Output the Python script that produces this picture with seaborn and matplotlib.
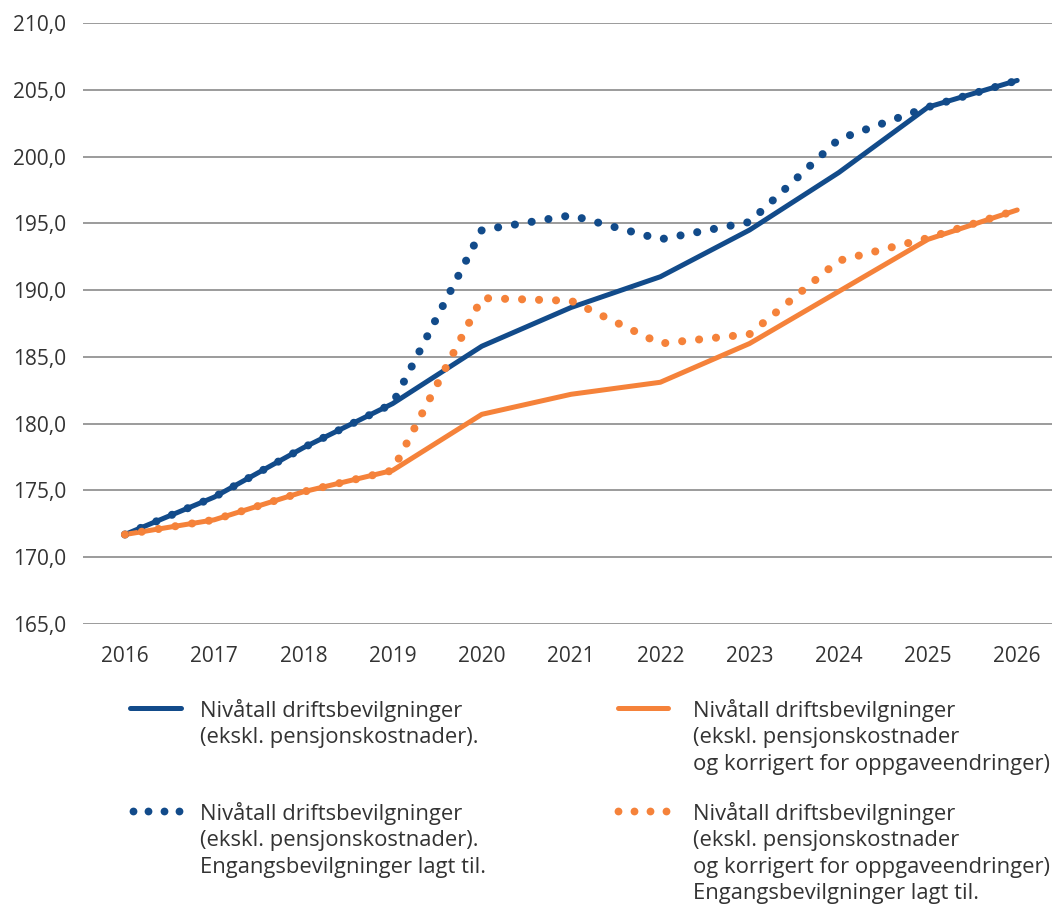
import matplotlib
matplotlib.use("Agg")
from matplotlib import pyplot as plt
from matplotlib.lines import Line2D
import seaborn as sns
import pandas as pd

years = [2016, 2017, 2018, 2019, 2020, 2021, 2022, 2023, 2024, 2025, 2026]
blue_solid = [171.7, 174.5, 178.2, 181.5, 185.8, 188.7, 191.0, 194.5, 198.8, 203.7, 205.7]
blue_dotted = [171.7, 174.5, 178.2, 181.5, 194.5, 195.6, 193.8, 195.1, 201.3, 203.7, 205.7]
orange_solid = [171.7, 172.8, 174.9, 176.5, 180.7, 182.2, 183.1, 186.0, 189.9, 193.8, 196.0]
orange_dotted = [171.7, 172.8, 174.9, 176.5, 189.4, 189.2, 186.0, 186.7, 192.2, 193.9, 196.0]

labels = [
    "Nivåtall driftsbevilgninger\n(ekskl. pensjonskostnader).",
    "Nivåtall driftsbevilgninger\n(ekskl. pensjonskostnader\nog korrigert for oppgaveendringer)",
    "Nivåtall driftsbevilgninger\n(ekskl. pensjonskostnader).\nEngangsbevilgninger lagt til.",
    "Nivåtall driftsbevilgninger\n(ekskl. pensjonskostnader\nog korrigert for oppgaveendringer)\nEngangsbevilgninger lagt til.",
]
yticks = [165, 170, 175, 180, 185, 190, 195, 200, 205, 210]

BLUE = "#124b8a"
ORANGE = "#f5823a"
DOTS = (0, (0.01, 2.1))
DOT_LW = 5.8

sns.set_style("white")
plt.rcParams["font.family"] = ["Open Sans", "DejaVu Sans"]

df = pd.DataFrame({"year": years, "bs": blue_solid, "bd": blue_dotted,
                   "os": orange_solid, "od": orange_dotted})

fig = plt.figure(figsize=(10.52, 9.06), dpi=100)
ax = fig.add_axes([83 / 1052, 1 - 624 / 906, 969 / 1052, 601 / 906])

sns.lineplot(data=df, x="year", y="bs", color=BLUE, linewidth=3.6, ax=ax)
sns.lineplot(data=df, x="year", y="os", color=ORANGE, linewidth=3.6, ax=ax)
sns.lineplot(data=df, x="year", y="bd", color=BLUE, linewidth=DOT_LW, linestyle=DOTS,
             dash_capstyle="round", ax=ax)
sns.lineplot(data=df, x="year", y="od", color=ORANGE, linewidth=DOT_LW, linestyle=DOTS,
             dash_capstyle="round", ax=ax)

ax.set_xlim(2015.53, 2026.39)
ax.set_ylim(165, 210)
ax.set_xticks(years)
ax.set_yticks(yticks)
ax.set_yticklabels([f"{v:.1f}".replace(".", ",") for v in yticks])
ax.set_xlabel("")
ax.set_ylabel("")
ax.grid(axis="y", color="#808080", linewidth=1.1)
ax.set_axisbelow(True)
for s in ax.spines.values():
    s.set_visible(False)
ax.tick_params(axis="x", length=0, pad=16, labelsize=15, labelcolor="#333333")
ax.tick_params(axis="y", length=0, pad=12, labelsize=15, labelcolor="#333333")

# legend, drawn by hand in figure pixels
W, H = 1052, 906
def fx(x): return x / W
def fy(y): return 1 - y / H

entries = [
    (130, 181, 708, BLUE, False, 200, labels[0]),
    (618, 668, 708, ORANGE, False, 693, labels[1]),
    (133, 179, 811, BLUE, True, 200, labels[2]),
    (618, 666, 811, ORANGE, True, 693, labels[3]),
]
for x0, x1, y, c, dotted, tx, lab in entries:
    if dotted:
        xs = [fx(x0 + i * (x1 - x0) / 3) for i in range(4)]
        fig.add_artist(Line2D(xs, [fy(y)] * 4, color=c, linestyle="none",
                              marker="o", markersize=5.6, markeredgewidth=0))
    else:
        fig.add_artist(Line2D([fx(x0), fx(x1)], [fy(y), fy(y)], color=c, linewidth=3.6,
                              solid_capstyle="round"))
    fig.text(fx(tx), fy(y - 9), lab, fontsize=15.8, color="#333333", va="top",
             ha="left", linespacing=1.33)

plt.savefig("out.png", dpi=100)
